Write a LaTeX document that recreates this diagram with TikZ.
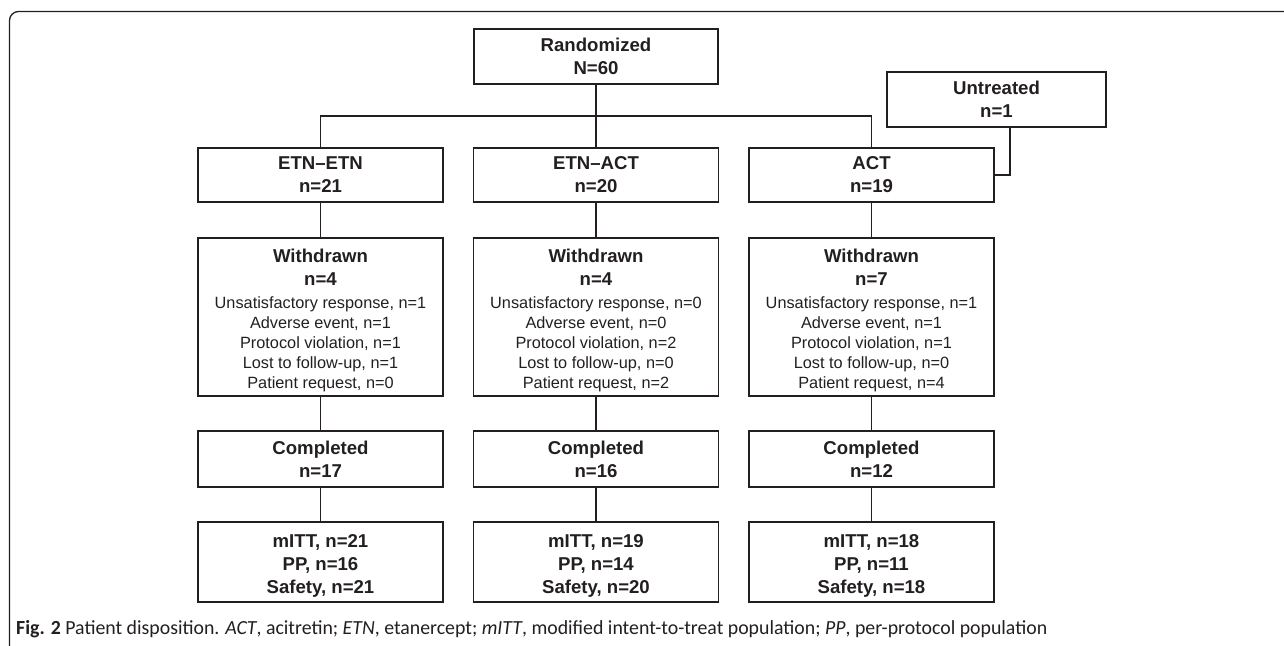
\documentclass[tikz,border=0pt]{standalone}
\usepackage{graphicx}
\usepackage{fontspec}
\setmainfont{Liberation Sans}
\newfontfamily\capfont{Carlito}
\definecolor{ink}{HTML}{231F20}
\newcommand{\bl}[1]{{\bfseries\fontsize{18.6}{23}\selectfont #1}}
\newcommand{\tstrut}[1]{\rule{0pt}{#1}}
\begin{document}
\begin{tikzpicture}[x=1pt,y=-1pt,
  box/.style={draw=ink, line width=1.3pt, text=ink, inner sep=0pt, align=center, minimum width=245pt},
  link/.style={draw=ink, line width=1.3pt},
  bf/.style={font=\bfseries\fontsize{18.6}{23}\selectfont},
  rg/.style={font=\fontsize{16.3}{20}\selectfont}]
\useasboundingbox (0,0) rectangle (1284,645);
\draw[link, rounded corners=9pt] (1300,11.5) -- (9.5,11.5) -- (9.5,660);

% top
\node[box, bf, minimum height=55pt, minimum width=244pt] (rand) at (596,56.5) {Randomized\\N=60};
\node[box, bf, minimum height=55pt, minimum width=219pt] (untr) at (996.5,99.5) {Untreated\\n=1};

% arms
\node[box, bf, minimum height=54pt] (a1) at (320.5,175) {ETN--ETN\\n=21};
\node[box, bf, minimum height=54pt] (a2) at (596,175) {ETN--ACT\\n=20};
\node[box, bf, minimum height=54pt] (a3) at (871.5,175) {ACT\\n=19};

% withdrawn
\node[box, rg, minimum height=158pt] (w1) at (320.5,317) {\tstrut{21pt}\bl{Withdrawn}\\[3pt]\bl{n=4}\\[3pt]Unsatisfactory response, n=1\\Adverse event, n=1\\Protocol violation, n=1\\Lost to follow-up, n=1\\Patient request, n=0};
\node[box, rg, minimum height=158pt] (w2) at (596,317) {\tstrut{21pt}\bl{Withdrawn}\\[3pt]\bl{n=4}\\[3pt]Unsatisfactory response, n=0\\Adverse event, n=0\\Protocol violation, n=2\\Lost to follow-up, n=0\\Patient request, n=2};
\node[box, rg, minimum height=158pt] (w3) at (871.5,317) {\tstrut{21pt}\bl{Withdrawn}\\[3pt]\bl{n=7}\\[3pt]Unsatisfactory response, n=1\\Adverse event, n=1\\Protocol violation, n=1\\Lost to follow-up, n=0\\Patient request, n=4};

% completed
\node[box, bf, minimum height=56pt] (c1) at (320.5,459) {Completed\\n=17};
\node[box, bf, minimum height=56pt] (c2) at (596,459) {Completed\\n=16};
\node[box, bf, minimum height=56pt] (c3) at (871.5,459) {Completed\\n=12};

% populations
\node[box, bf, minimum height=80pt] (p1) at (320.5,562) {\tstrut{21pt}mITT, n=21\\PP, n=16\\Safety, n=21};
\node[box, bf, minimum height=80pt] (p2) at (596,562) {\tstrut{21pt}mITT, n=19\\PP, n=14\\Safety, n=20};
\node[box, bf, minimum height=80pt] (p3) at (871.5,562) {\tstrut{21pt}mITT, n=18\\PP, n=11\\Safety, n=18};

% connectors
\coordinate (split) at (596,116);
\draw[link] (rand.south) -- (a2.north);
\draw[link] (a1.north) |- (split) -| (a3.north);
\draw[link] ([xshift=13.5pt]untr.south) |- (a3.east);
\foreach \i in {1,2,3}{
  \draw[link] (a\i.south) -- (w\i.north);
  \draw[link] (w\i.south) -- (c\i.north);
  \draw[link] (c\i.south) -- (p\i.north);
}

% caption
\node[anchor=base west, text=ink, inner sep=0pt] (cap) at (16,634) {\resizebox{1031pt}{\height}{\capfont\fontsize{20}{22}\selectfont\textbf{Fig. 2} Patient disposition. \textit{ACT}, acitretin; \textit{ETN}, etanercept; \textit{mITT}, modified intent-to-treat population; \textit{PP}, per-protocol population}};
\end{tikzpicture}
\end{document}
